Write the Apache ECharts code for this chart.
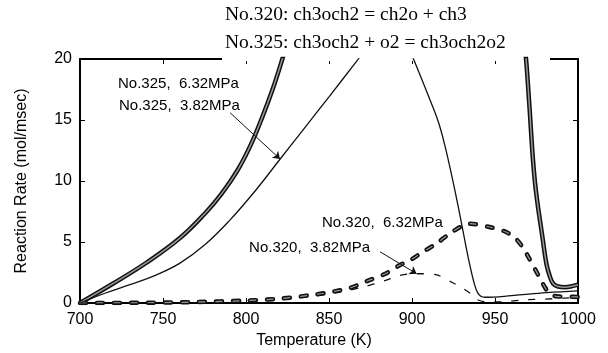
<!DOCTYPE html>
<html>
<head>
<meta charset="utf-8">
<style>
html, body { margin: 0; padding: 0; background: #fff; }
#chart { width: 608px; height: 353px; }
</style>
<script src="https://cdn.jsdelivr.net/npm/echarts@6/dist/echarts.min.js"></script>
</head>
<body>
<div id="chart"></div>
<script>
// Temperature (K) vs reaction rate (mol/msec); '-' breaks a curve where it leaves the top of the plot
const rate325hi = [[700, 0], [720, 1.6], [740, 3.3], [760, 5.3], [775, 7.3], [785, 8.9], [795, 10.9], [803, 13.0], [810, 15.3], [816, 17.5],
    [821, 19.6], [824, 21.0],
    [895, '-'],
    [967.5, 21.2], [968.7, 20.0], [970.5, 16.6], [974, 10.0], [979, 5.0], [981, 3.2], [983, 2.2], [985, 1.6], [988, 1.35], [992, 1.3], [1000, 1.5]];
const rate325lo = [[700, 0], [715, 0.8], [730, 1.5], [745, 2.25], [760, 3.25], [775, 4.75], [790, 6.75], [805, 9.1], [820, 11.7], [835, 14.3],
    [850, 16.9], [866, 19.7], [870, 20.4],
    [885, '-'],
    [900, 20.3], [906, 18.3], [911, 16.6], [916, 14.8], [920, 12.8], [924, 10.4], [928, 7.8], [932, 5.0], [935, 3.0], [937.5, 1.6],
    [939.5, 0.85], [941.5, 0.55], [944, 0.47], [960, 0.6], [981, 0.85], [1000, 1.0]];
const rate320hi = [[700, 0], [740, 0.02], [770, 0.08], [800, 0.2], [820, 0.35], [842, 0.7], [853, 0.95], [863, 1.25], [873, 1.8], [884, 2.4],
    [892, 3.05], [900, 3.6], [905, 4.05], [915, 4.9], [925, 5.9], [935, 6.5], [946, 6.25], [957, 5.8], [963, 5.2], [967, 4.5], [970, 3.8],
    [976, 2.3], [980, 1.3], [983, 0.75], [987, 0.55], [1000, 0.5]];
const rate320lo = [[700, 0], [760, 0.05], [800, 0.15], [830, 0.4], [855, 0.85], [870, 1.3], [883, 1.8], [891, 2.2], [898, 2.38], [905, 2.4],
    [915, 2.3], [924, 1.7], [930, 1.25], [935, 0.8], [939, 0.3], [945, 0.08], [955, 0.1], [967, 0.25], [985, 0.35], [1000, 0.45]];

const titleLines = ['No.320: ch3och2 = ch2o + ch3', 'No.325: ch3och2 + o2 = ch3och2o2'];
// curve labels, anchored in data coordinates
const curveLabels = [
    { text: 'No.325,  6.32MPa', at: [722.9, 18.0], align: 'left' },
    { text: 'No.325,  3.82MPa', at: [723.5, 16.2], align: 'left' },
    { text: 'No.320,  6.32MPa', at: [845.8, 6.56], align: 'left' },
    { text: 'No.320,  3.82MPa', at: [874.7, 4.5], align: 'right' }
];
const arrows = [
    [[790.4, 15.6], [820.5, 11.8]],
    [[880.7, 4.2], [902.8, 2.4]]
];

const sans = 'Liberation Sans, Arial, sans-serif';
const serif = 'Liberation Serif, Times New Roman, serif';

const chart = echarts.init(document.getElementById('chart'));

const frameAxis = (extra) => Object.assign({
    type: 'value',
    axisLine: { show: true, onZero: false, lineStyle: { color: '#000', width: 2 } },
    axisTick: { show: true, inside: true, length: 5, lineStyle: { color: '#000', width: 1 } },
    splitLine: { show: false }
}, extra);

chart.setOption({
    animation: false,
    backgroundColor: '#fff',
    grid: { left: 80, right: 30, top: 59, bottom: 50 },
    xAxis: [
        frameAxis({
            min: 700, max: 1000, interval: 50, position: 'bottom',
            axisLabel: { color: '#000', fontSize: 16, fontFamily: sans, margin: 9, formatter: v => String(v) }
        }),
        frameAxis({ min: 700, max: 1000, interval: 50, position: 'top', axisLabel: { show: false } })
    ],
    yAxis: [
        frameAxis({
            min: 0, max: 20, interval: 5, position: 'left',
            axisLabel: { color: '#000', fontSize: 16, fontFamily: sans, margin: 8 }
        }),
        frameAxis({ min: 0, max: 20, interval: 5, position: 'right', axisLabel: { show: false } })
    ],
    series: [
        {
            type: 'line', data: rate325hi, showSymbol: false, smooth: 0.4, z: 3,
            lineStyle: { color: '#111', width: 4.5 }
        },
        {
            type: 'line', data: rate325hi, showSymbol: false, smooth: 0.4, z: 4,
            lineStyle: { color: '#9a9a9a', width: 1.5 }
        },
        {
            type: 'line', data: rate320hi, showSymbol: false, smooth: 0.3, z: 3,
            lineStyle: { color: '#111', width: 4.5, type: [6, 11], cap: 'round' }
        },
        {
            type: 'line', data: rate320hi, showSymbol: false, smooth: 0.3, z: 4,
            lineStyle: { color: '#9a9a9a', width: 1.2, type: [6, 11], cap: 'round' }
        },
        {
            type: 'line', data: rate320lo, showSymbol: false, smooth: 0.3, z: 3,
            lineStyle: { color: '#111', width: 1.3, type: [7, 10] }
        },
        {
            type: 'line', data: rate325lo, showSymbol: false, smooth: 0.4, z: 5,
            lineStyle: { color: '#111', width: 1.3 },
            markLine: {
                silent: true,
                symbol: ['none', 'arrow'],
                symbolSize: 7,
                label: { show: false },
                lineStyle: { color: '#111', width: 1, type: 'solid' },
                data: arrows.map(a => [{ coord: a[0] }, { coord: a[1] }])
            }
        }
    ]
});

const graphics = [
    // white band behind the second title line hides the top frame there
    { type: 'rect', shape: { x: 222, y: 31, width: 328, height: 30 }, style: { fill: '#fff' }, z: 1 },
    { type: 'text', x: 225, y: 15, z: 10, style: { text: titleLines[0], font: '19.5px ' + serif, fill: '#000', textVerticalAlign: 'middle' } },
    { type: 'text', x: 225, y: 43, z: 10, style: { text: titleLines[1], font: '19.5px ' + serif, fill: '#000', textVerticalAlign: 'middle' } },
    { type: 'text', x: 22, y: 181, rotation: Math.PI / 2, z: 10,
      style: { text: 'Reaction Rate (mol/msec)', font: '16px ' + sans, fill: '#000', textAlign: 'center', textVerticalAlign: 'middle' } },
    { type: 'text', x: 314, y: 341, z: 10,
      style: { text: 'Temperature (K)', font: '16px ' + sans, fill: '#000', textAlign: 'center', textVerticalAlign: 'middle' } }
];
curveLabels.forEach(l => {
    const p = chart.convertToPixel({ gridIndex: 0 }, l.at);
    graphics.push({
        type: 'text', x: p[0], y: p[1], z: 10,
        style: { text: l.text, font: '15px ' + sans, fill: '#000', textAlign: l.align, textVerticalAlign: 'middle' }
    });
});
chart.setOption({ graphic: graphics });
</script>
</body>
</html>
